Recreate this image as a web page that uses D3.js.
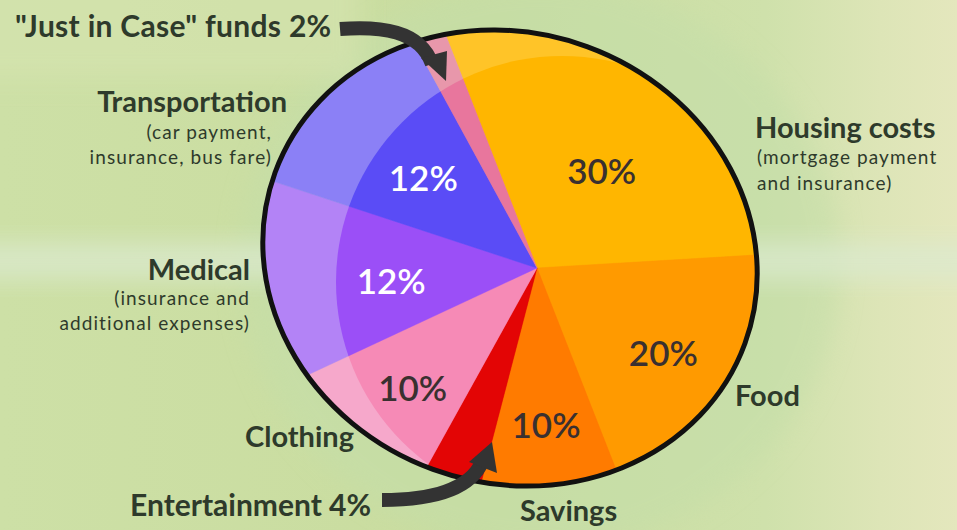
<!DOCTYPE html>
<html>
<head>
<meta charset="utf-8">
<script src="https://cdn.jsdelivr.net/npm/d3@7"></script>
<style>
  html, body { margin: 0; padding: 0; background: #cadc9f; }
  svg { display: block; }
  text { font-family: Lato, "Open Sans", sans-serif; fill: #2e3a2b; }
</style>
</head>
<body>
<div id="chart"></div>
<script>
// budget shares, clockwise from the top
var categories = ["Housing costs", "Food", "Savings", "Entertainment", "Clothing", "Medical", "Transportation", "\"Just in Case\" funds"];
var shares = [30, 20, 10, 4, 10, 12, 12, 2];
var innerColors = ["#ffb600", "#ff9a00", "#ff7b00", "#e30505", "#f68ab6", "#9b4ff7", "#5a4cf6", "#e8769d"];
var outerColors = ["#ffc428", "#ff9a00", "#ff7b00", "#e30505", "#f6a8cb", "#b383f6", "#8b80f6", "#e897ab"];
var pctColors = ["#3a3030", "#3a3030", "#3a3030", null, "#3a3030", "#ffffff", "#ffffff", null];
var pctRadius = [120, 150, 153, 0, 170, 146, 148, 0];

var width = 957;
var height = 530;
var cx = 537, cy = 268;
// hand drawn outline, roughly an ellipse leaning a little
var ox = 510, oy = 258, orx = 250, ory = 225, tilt = 20;

var svg = d3.select('#chart')
  .append('svg')
  .attr('width', width)
  .attr('height', height);

var defs = svg.append('defs');

var bg = defs.append('linearGradient').attr('id', 'bg').attr('x1', 0).attr('x2', 1).attr('y1', 0).attr('y2', 0);
bg.append('stop').attr('offset', '0%').attr('stop-color', '#cde0a6');
bg.append('stop').attr('offset', '50%').attr('stop-color', '#c9dc9f');
bg.append('stop').attr('offset', '80%').attr('stop-color', '#cfe1ab');
bg.append('stop').attr('offset', '92%').attr('stop-color', '#dde5b7');
bg.append('stop').attr('offset', '100%').attr('stop-color', '#e4e7bd');

defs.append('filter').attr('id', 'blur')
  .attr('x', '-20%').attr('y', '-50%').attr('width', '140%').attr('height', '200%')
  .append('feGaussianBlur').attr('stdDeviation', 12);

function outline(sel) {
  return sel.append('ellipse')
    .attr('cx', ox).attr('cy', oy)
    .attr('rx', orx).attr('ry', ory)
    .attr('transform', 'rotate(' + tilt + ',' + ox + ',' + oy + ')');
}

outline(defs.append('clipPath').attr('id', 'pieClip'));

// the deeper coloured core sits a little right of the outline
defs.append('clipPath').attr('id', 'coreClip')
  .append('circle')
  .attr('cx', 562).attr('cy', 282)
  .attr('r', 226);

svg.append('rect').attr('width', width).attr('height', height).attr('fill', 'url(#bg)');

// soft halo round the pie and light band behind it
svg.append('ellipse')
  .attr('cx', 540).attr('cy', 265).attr('rx', 300).attr('ry', 285)
  .attr('fill', '#c4dea9').attr('opacity', 0.55).attr('filter', 'url(#blur)');
svg.append('rect')
  .attr('x', -40).attr('y', 243).attr('width', width + 80).attr('height', 36)
  .attr('fill', '#dcead0').attr('opacity', 0.75).attr('filter', 'url(#blur)');
svg.append('rect')
  .attr('x', -40).attr('y', -40).attr('width', 400).attr('height', 120)
  .attr('fill', '#d6e4b0').attr('opacity', 0.6).attr('filter', 'url(#blur)');

var start = -21.4 * Math.PI / 180;
var pie = d3.pie().sort(null).startAngle(start).endAngle(start + 2 * Math.PI);
var arcs = pie(shares);

var bigArc = d3.arc().innerRadius(0).outerRadius(330);

var g = svg.append('g').attr('clip-path', 'url(#pieClip)');

g.append('g')
  .attr('transform', 'translate(' + cx + ',' + cy + ')')
  .selectAll('path')
  .data(arcs)
  .enter()
  .append('path')
  .attr('d', bigArc)
  .attr('fill', function(d, i) { return outerColors[i]; })
  .attr('stroke', function(d, i) { return outerColors[i]; })
  .attr('stroke-width', 0.5);

g.append('g')
  .attr('clip-path', 'url(#coreClip)')
  .append('g')
  .attr('transform', 'translate(' + cx + ',' + cy + ')')
  .selectAll('path')
  .data(arcs)
  .enter()
  .append('path')
  .attr('d', bigArc)
  .attr('fill', function(d, i) { return innerColors[i]; })
  .attr('stroke', function(d, i) { return innerColors[i]; })
  .attr('stroke-width', 0.5);

outline(svg)
  .attr('fill', 'none')
  .attr('stroke', '#111')
  .attr('stroke-width', 5);

// percentages inside the slices
var labelGroup = svg.append('g').attr('transform', 'translate(' + cx + ',' + cy + ')');
labelGroup.selectAll('text')
  .data(arcs.filter(function(d, i) { return pctColors[i]; }))
  .enter()
  .append('text')
  .attr('transform', function(d) {
    var r = pctRadius[d.index];
    var c = d3.arc().innerRadius(r).outerRadius(r).centroid(d);
    return 'translate(' + c[0] + ',' + c[1] + ')';
  })
  .attr('text-anchor', 'middle')
  .attr('dy', '0.5em')
  .attr('font-size', 35)
  .attr('font-weight', 600)
  .style('fill', function(d) { return pctColors[d.index]; })
  .text(function(d) { return shares[d.index] + '%'; });

// arrows
svg.append('path')
  .attr('d', 'M340,29 C380,26 420,30 432,64')
  .attr('fill', 'none').attr('stroke', '#333').attr('stroke-width', 14);
svg.append('path')
  .attr('d', 'M421,58 L446,81 L447,51 Z')
  .attr('fill', '#333');
svg.append('path')
  .attr('d', 'M382,500 C430,500 470,490 482,462')
  .attr('fill', 'none').attr('stroke', '#333').attr('stroke-width', 14);
svg.append('path')
  .attr('d', 'M469,462 L492,442 L497,473 Z')
  .attr('fill', '#333');

// outside labels
function label(x, y, anchor, size, weight, str, spacing) {
  svg.append('text')
    .attr('x', x).attr('y', y)
    .attr('text-anchor', anchor)
    .attr('font-size', size)
    .attr('font-weight', weight)
    .attr('letter-spacing', spacing || 0)
    .text(str);
}

label(15, 37, 'start', 30, 700, categories[7] + ' ' + shares[7] + '%', 0.3);
label(287, 112, 'end', 29, 700, categories[6]);
label(272, 139, 'end', 19, 400, '(car payment,', 1.1);
label(272, 164, 'end', 19, 400, 'insurance, bus fare)', 1.1);
label(250, 280, 'end', 29, 700, categories[5]);
label(250, 305, 'end', 19, 400, '(insurance and', 1.1);
label(250, 330, 'end', 19, 400, 'additional expenses)', 1.1);
label(245, 447, 'start', 29, 700, categories[4]);
label(130, 516, 'start', 30, 700, categories[3] + '  ' + shares[3] + '%');
label(520, 521, 'start', 29, 700, categories[2]);
label(735, 406, 'start', 29, 700, categories[1]);
label(755, 138, 'start', 29, 700, categories[0]);
label(757, 164, 'start', 19, 400, '(mortgage payment', 1.1);
label(757, 190, 'start', 19, 400, 'and insurance)', 1.1);
</script>
</body>
</html>
